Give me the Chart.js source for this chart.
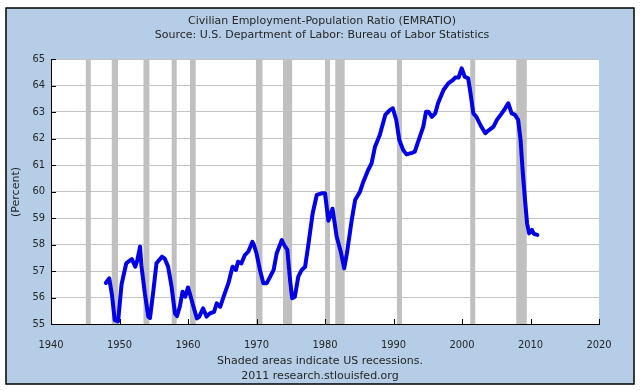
<!DOCTYPE html>
<html>
<head>
<meta charset="utf-8">
<script src="https://cdn.jsdelivr.net/npm/chart.js@4.4.1/dist/chart.umd.min.js"></script>
<style>
  html, body { margin: 0; padding: 0; background: #fff; }
  #wrap { width: 640px; height: 391px; }
</style>
</head>
<body>
<div id="wrap"><canvas id="chart" width="640" height="391"></canvas></div>
<script>
// EMRATIO (decimal years)
const dates = [
  1948.0, 1948.5, 1948.9, 1949.3, 1949.8, 1950.3, 1951.0, 1951.8, 1952.3, 1952.6,
  1953.0, 1953.2, 1953.7, 1954.2, 1954.45, 1954.9, 1955.4, 1956.2, 1956.6, 1957.1,
  1957.6, 1958.1, 1958.4, 1958.8, 1959.2, 1959.6, 1960.0, 1960.4, 1960.8, 1961.3,
  1961.65, 1962.2, 1962.7, 1963.2, 1963.8, 1964.2, 1964.7, 1965.2, 1965.9, 1966.5,
  1967.0, 1967.3, 1967.8, 1968.3, 1968.8, 1969.4, 1969.6, 1970.0, 1970.5, 1971.0,
  1971.5, 1972.0, 1972.5, 1972.95, 1973.7, 1974.0, 1974.5, 1974.9, 1975.2, 1975.6,
  1976.1, 1976.6, 1977.1, 1977.6, 1978.2, 1978.8, 1979.5, 1980.0, 1980.5, 1981.1,
  1981.7, 1982.3, 1982.8, 1983.2, 1983.9, 1984.4, 1985.1, 1985.6, 1986.3, 1986.8,
  1987.3, 1988.0, 1988.8, 1989.5, 1989.9, 1990.4, 1990.85, 1991.4, 1991.9, 1992.7,
  1993.1, 1993.6, 1994.35, 1994.75, 1995.1, 1995.6, 1996.1, 1996.5, 1997.3, 1998.0,
  1998.7, 1999.0, 1999.5, 1999.95, 2000.4, 2000.9, 2001.25, 2001.65, 2002.1, 2002.7,
  2003.4, 2003.85, 2004.6, 2005.1, 2005.8, 2006.3, 2006.75, 2007.25, 2007.7, 2008.2,
  2008.55, 2008.85, 2009.2, 2009.5, 2009.8, 2010.2, 2010.5, 2011.0
];
const ratio = [
  56.55, 56.72, 56.1, 55.15, 55.1, 56.5, 57.3, 57.45, 57.16, 57.4,
  57.92, 57.2, 56.16, 55.28, 55.23, 56.16, 57.29, 57.54, 57.47, 57.16,
  56.41, 55.4, 55.3, 55.65, 56.22, 56.03, 56.38, 56.03, 55.65, 55.21,
  55.28, 55.59, 55.28, 55.4, 55.46, 55.78, 55.65, 56.03, 56.54, 57.16,
  57.04, 57.35, 57.29, 57.6, 57.73, 58.1, 58.0, 57.67, 57.04, 56.54,
  56.54, 56.79, 57.04, 57.67, 58.17, 58.0, 57.8, 56.66, 55.97, 56.03,
  56.79, 57.04, 57.16, 58.05, 59.18, 59.87, 59.93, 59.93, 58.9, 59.35,
  58.3, 57.73, 57.1, 57.67, 58.92, 59.68, 59.99, 60.37, 60.81, 61.06,
  61.69, 62.13, 62.89, 63.08, 63.14, 62.7, 61.94, 61.57, 61.4, 61.46,
  61.5, 61.88, 62.45, 63.01, 63.01, 62.82, 62.95, 63.33, 63.83, 64.08,
  64.21, 64.3, 64.3, 64.65, 64.33, 64.27, 63.7, 62.95, 62.82, 62.5,
  62.2, 62.3, 62.45, 62.7, 62.95, 63.14, 63.33, 62.95, 62.9, 62.7,
  61.94, 60.81, 59.68, 58.8, 58.42, 58.55, 58.4, 58.36
];

// NBER recessions shown as grey bands
const recessionStart = [1945.08, 1948.87, 1953.5, 1957.62, 1960.29, 1969.92, 1973.87, 1980.0, 1981.5, 1990.5, 2001.2, 2007.92];
const recessionEnd   = [1945.75, 1949.79, 1954.37, 1958.29, 1961.12, 1970.87, 1975.2, 1980.5, 1982.87, 1991.2, 2001.87, 2009.45];

const titleLines = ['Civilian Employment-Population Ratio (EMRATIO)', 'Source: U.S. Department of Labor: Bureau of Labor Statistics'];
const footerLines = ['Shaded areas indicate US recessions.', '2011 research.stlouisfed.org'];
const yLabel = '(Percent)';

const FONT = '"DejaVu Sans", sans-serif';
const TICK_FONT = '"DejaVu Sans Condensed", "DejaVu Sans", sans-serif';
const BG = '#b5cde6';
const TEXT = '#262626';

const framePlugin = {
    id: 'frame',
    beforeDraw(chart) {
        const { ctx, chartArea: a } = chart;
        ctx.save();
        ctx.fillStyle = '#fff';
        ctx.fillRect(0, 0, chart.width, chart.height);
        ctx.fillStyle = BG;
        ctx.fillRect(6, 8, 628, 376);
        ctx.strokeStyle = '#000';
        ctx.lineWidth = 1.5;
        ctx.strokeRect(6, 8, 628, 376);
        ctx.fillStyle = '#fff';
        ctx.fillRect(a.left, a.top, a.right - a.left, a.bottom - a.top);

        ctx.fillStyle = TEXT;
        ctx.font = '11px ' + FONT;
        ctx.textAlign = 'center';
        ctx.textBaseline = 'middle';
        ctx.fillText(titleLines[0], 322, 21);
        ctx.fillText(titleLines[1], 322, 35);
        ctx.fillText(footerLines[0], 320, 361);
        ctx.fillText(footerLines[1], 320, 376);

        ctx.translate(16, 192);
        ctx.rotate(-Math.PI / 2);
        ctx.fillText(yLabel, 0, 0);
        ctx.restore();
    },
    beforeDatasetsDraw(chart) {
        const { ctx, chartArea: a, scales: { x, y } } = chart;
        ctx.save();
        ctx.fillStyle = '#c0c0c0';
        recessionStart.forEach((s, i) => {
            const x0 = x.getPixelForValue(s);
            const x1 = x.getPixelForValue(recessionEnd[i]);
            ctx.fillRect(x0, a.top, Math.max(x1 - x0, 5), a.bottom - a.top);
        });
        // short tick marks pointing into the plot
        ctx.strokeStyle = '#000';
        ctx.lineWidth = 1;
        ctx.beginPath();
        y.ticks.forEach(t => {
            const py = Math.round(y.getPixelForValue(t.value)) + 0.5;
            ctx.moveTo(a.left, py);
            ctx.lineTo(a.left + 5, py);
        });
        x.ticks.forEach(t => {
            const px = Math.round(x.getPixelForValue(t.value)) + 0.5;
            ctx.moveTo(px, a.bottom);
            ctx.lineTo(px, a.bottom - 5);
        });
        ctx.stroke();
        ctx.restore();
    }
};

new Chart(document.getElementById('chart'), {
    type: 'line',
    data: {
        datasets: [{
            data: dates.map((d, i) => ({ x: d, y: ratio[i] })),
            borderColor: '#0000e6',
            borderWidth: 4,
            borderJoinStyle: 'round',
            borderCapStyle: 'round',
            pointRadius: 0,
            tension: 0
        }]
    },
    options: {
        responsive: false,
        animation: false,
        layout: { padding: { top: 59, right: 41, left: 0, bottom: 0 } },
        plugins: { legend: { display: false }, tooltip: { enabled: false } },
        scales: {
            x: {
                type: 'linear',
                min: 1940, max: 2020,
                afterFit: s => { s.height = 67; },
                grid: { display: false },
                border: { display: true, color: '#000', width: 1 },
                ticks: {
                    stepSize: 10, padding: 7, color: TEXT, maxRotation: 0,
                    font: { family: TICK_FONT, size: 11 },
                    callback: v => String(v)
                }
            },
            y: {
                min: 55, max: 65,
                afterFit: s => { s.width = 51; },
                grid: { color: '#c4c4c4', lineWidth: 1, drawTicks: false },
                border: { display: true, color: '#000', width: 1 },
                ticks: {
                    stepSize: 1, padding: 6, color: TEXT,
                    font: { family: TICK_FONT, size: 11 },
                    callback: v => String(v)
                }
            }
        }
    },
    plugins: [framePlugin]
});
</script>
</body>
</html>
